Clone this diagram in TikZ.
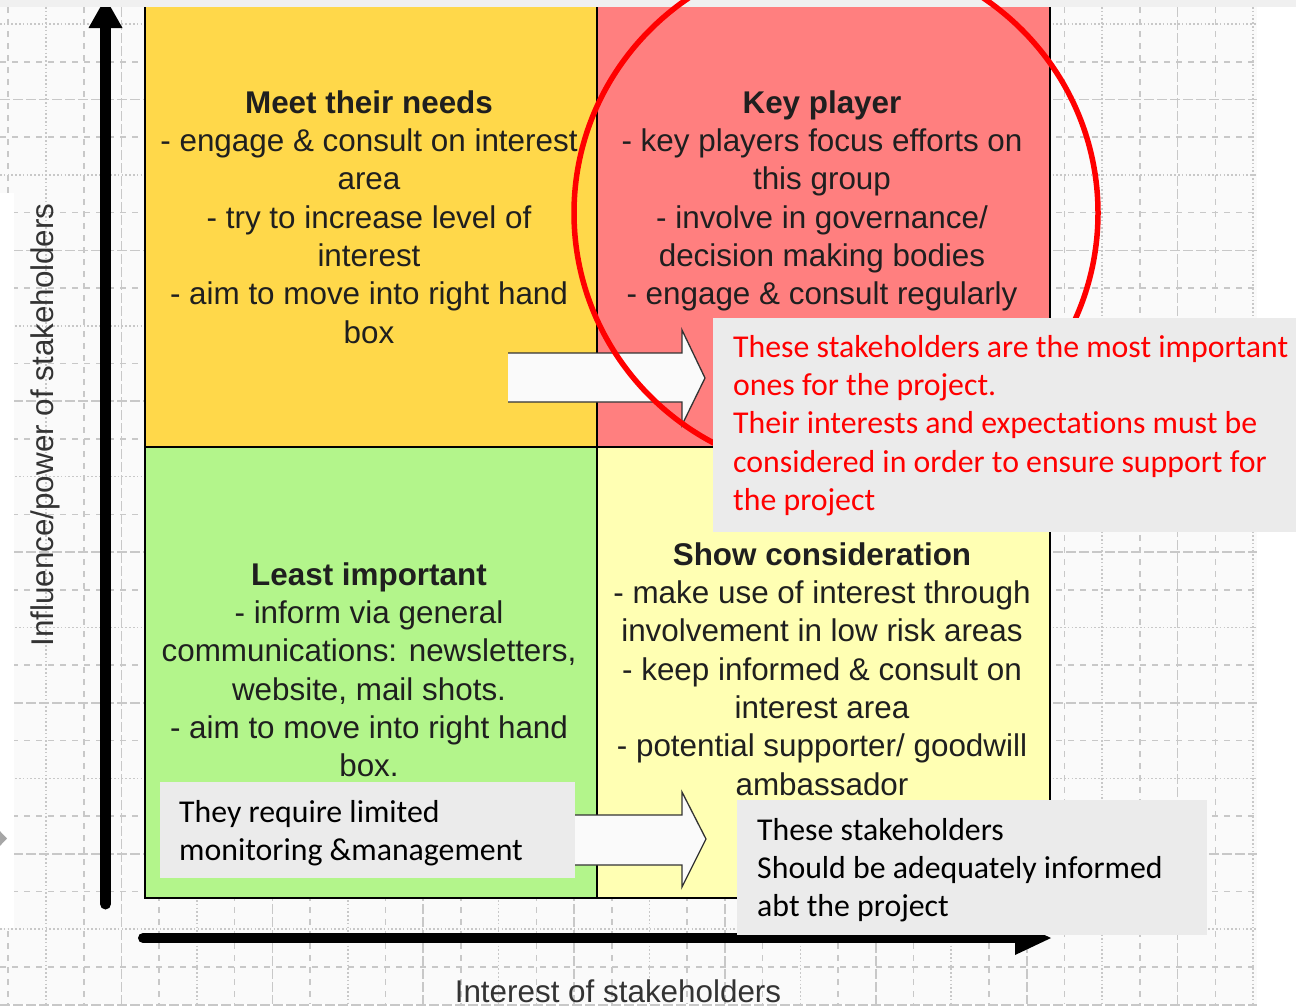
\documentclass[tikz,border=0pt]{standalone}
\usepackage{fontspec}
\newfontfamily\arialf{Liberation Sans}
\newfontfamily\calibf[RawFeature=-liga]{Carlito}
\definecolor{tlc}{HTML}{FFD84A}
\definecolor{trc}{HTML}{FF7F7F}
\definecolor{blc}{HTML}{B3F58B}
\definecolor{brc}{HTML}{FFFFB3}
\definecolor{gridc}{HTML}{C8C8C8}
\definecolor{boxc}{HTML}{EBEBEB}
\definecolor{gridbg}{HTML}{FAFAFA}
\definecolor{stripc}{HTML}{F0F0F0}
\definecolor{arrowfill}{HTML}{FAFAFA}
\begin{document}
\begin{tikzpicture}[x=1pt,y=-1pt,
  g0/.style={gridc,line width=1.6,dash pattern=on 1.5pt off 2.3pt},
  g1/.style={gridc,line width=1.6,dash pattern=on 6pt off 6pt},
  g2/.style={gridc,line width=1.6,dash pattern=on 10pt off 3pt},
  g3/.style={gridc,line width=1.6,dash pattern=on 6pt off 6pt},
  quad/.style={draw=black,line width=2},
  qtext/.style={anchor=north,inner sep=0,align=center,text=black!88,
    font=\arialf\fontsize{31.4}{38.3}\selectfont},
  ctext/.style={anchor=north west,inner sep=0,align=left,
    font=\calibf\fontsize{31.8}{38.3}\selectfont},
  cbox/.style={fill=boxc,inner sep=0,anchor=north west},
  axisline/.style={line width=11,line cap=round},
  blockarrow/.style={fill=arrowfill},
  blockedge/.style={draw=black!80,line width=1.3,line join=miter}
]
\useasboundingbox (0,0) rectangle (1296,1007);
\fill[white] (0,0) rectangle (1296,1007);
\fill[gridbg] (0,7) rectangle (1257,1004);
% grid
\foreach \k in {0,...,26} {
  \pgfmathsetmacro\yy{24+\k*37.72}
  \pgfmathtruncatemacro\mm{mod(\k,4)}
  \draw[g\mm] (0,\yy) -- (1257,\yy);
}
\foreach \j in {-1,...,32} {
  \pgfmathsetmacro\xx{46+\j*37.72}
  \pgfmathtruncatemacro\mm{mod(\j+4,4)}
  \draw[g\mm] (\xx,7) -- (\xx,1004);
}
\fill[white] (0,193) rectangle (14,928);
% left marker
\fill[gray!70] (-4,827) -- (7,838.5) -- (-4,850) -- cycle;
% quadrants
\draw[quad,fill=tlc] (145,4) rectangle (597,447);
\draw[quad,fill=trc] (597,4) rectangle (1050,447);
\draw[quad,fill=blc] (145,447) rectangle (597,898);
\draw[quad,fill=brc] (597,447) rectangle (1050,898);
% quadrant texts
\node[qtext] (tl) at (369,88) {\rule{0pt}{25pt}\textbf{Meet their needs}\\- engage \& consult on interest\\area\\- try to increase level of\\interest\\- aim to move into right hand\\box};
\node[qtext] (tr) at (822,88) {\rule{0pt}{25pt}\textbf{Key player}\\- key players focus efforts on\\this group\\- involve in governance/\\decision making bodies\\- engage \& consult regularly};
\node[qtext] (bl) at (369,560) {\rule{0pt}{25pt}\textbf{Least important}\\- inform via general\\communications: newsletters,\\website, mail shots.\\- aim to move into right hand\\box.};
\node[qtext] (br) at (822,540) {\rule{0pt}{25pt}\textbf{Show consideration}\\- make use of interest through\\involvement in low risk areas\\- keep informed \& consult on\\interest area\\- potential supporter/ goodwill\\ambassador};
% axes
\coordinate (vbot) at (105.5,904);
\coordinate (vtop) at (105.5,26);
\coordinate (hleft) at (143,938);
\coordinate (hright) at (1018,938);
\draw[axisline] (vbot) -- (vtop);
\fill (88.5,28) -- (122.5,28) -- (105.5,-2) -- cycle;
\draw[axisline,line width=10] (hleft) -- (hright);
\fill (1015,921) -- (1051,938) -- (1015,955) -- cycle;
\node[rotate=90,anchor=base,inner sep=0,text=black!80,font=\arialf\fontsize{31.4}{38}\selectfont] (ylab) at (53,425) {Influence/power of stakeholders};
\node[anchor=base,inner sep=0,text=black!80,font=\arialf\fontsize{31.4}{38}\selectfont] (xlab) at (618,1002) {Interest of stakeholders};
% top strip
\fill[stripc] (0,0) rectangle (1296,7);
% block arrows
\fill[blockarrow] (508,353) -- (682,353) -- (682,330) -- (705,378) -- (682,425) -- (682,402) -- (508,402) -- cycle;
\draw[blockedge] (508,353) -- (682,353) -- (682,330) -- (705,378) -- (682,425) -- (682,402) -- (508,402);
\fill[blockarrow] (560,815) -- (682,815) -- (682,792) -- (706,839) -- (682,887) -- (682,865) -- (560,865) -- cycle;
\draw[blockedge] (560,815) -- (682,815) -- (682,792) -- (706,839) -- (682,887) -- (682,865) -- (560,865);
% red ellipse
\draw[red,line width=5.5] (836,213) ellipse [x radius=262, y radius=260];
% callouts
\node[cbox,minimum width=583,minimum height=214] (box1) at (713,318) {};
\node[ctext,text=red] (c1) at (733,332) {\rule{0pt}{25pt}These stakeholders are the most important\\ones for the project.\\Their interests and expectations must be\\considered in order to ensure support for\\the project};
\node[cbox,minimum width=415,minimum height=96] (box2) at (160,782) {};
\node[ctext,text=black] (c2) at (179,797) {\rule{0pt}{25pt}They require limited\\monitoring \&management};
\node[cbox,minimum width=470,minimum height=135] (box3) at (737,800) {};
\node[ctext,text=black] (c3) at (757,815) {\rule{0pt}{25pt}These stakeholders\\Should be adequately informed\\abt the project};
\end{tikzpicture}
\end{document}
